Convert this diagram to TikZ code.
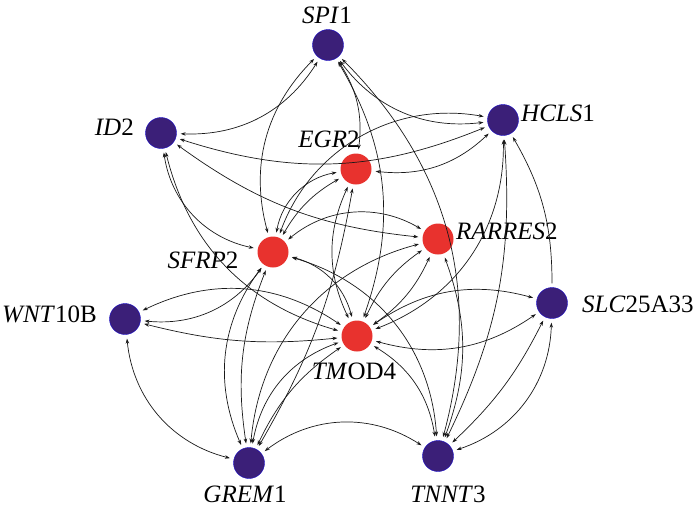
\documentclass[tikz,border=0pt]{standalone}
\usepackage{fontspec}
\setmainfont{Liberation Serif}
\usetikzlibrary{arrows.meta}
\definecolor{gblue}{RGB}{59,31,120}
\definecolor{gred}{RGB}{232,50,46}
\begin{document}
\begin{tikzpicture}[x=1pt,y=-1pt,
  gene/.style={circle, minimum size=31pt, inner sep=0pt},
  bnode/.style={gene, fill=gblue, draw=blue!60!gblue, line width=0.4pt},
  rnode/.style={gene, fill=gred},
  lab/.style={font=\fontsize{25}{25}\selectfont, inner sep=0pt},
  link/.style={{Stealth[length=5pt,width=3.5pt]}-{Stealth[length=5pt,width=3.5pt]}, line width=0.7pt, shorten <=4pt, shorten >=4pt, black!90},
  onelink/.style={-{Stealth[length=5pt,width=3.5pt]}, line width=0.7pt, shorten <=4pt, shorten >=4pt, black!90}
]
\useasboundingbox (0,0) rectangle (700,507);
% nodes
\node[bnode] (spi) at (328,45) {};
\node[bnode] (id) at (161,133) {};
\node[bnode] (hcls) at (503,120) {};
\node[rnode] (egr) at (356,169) {};
\node[rnode] (sfrp) at (273,252) {};
\node[rnode] (rar) at (438,239) {};
\node[bnode] (wnt) at (125,319) {};
\node[bnode] (slc) at (552,303) {};
\node[rnode] (tmod) at (357,336) {};
\node[bnode] (grem) at (249,463) {};
\node[bnode] (tnnt) at (438,456) {};
% labels
\node[lab] (lspi) at (327,15) {\textit{SPI}1};
\node[lab, anchor=east] (lid) at (134,127) {\textit{ID}2};
\node[lab, anchor=west] (lhcls) at (521,113) {\textit{HCLS}1};
\node[lab] (legr) at (329,139) {\textit{EGR}2};
\node[lab] (lsfrp) at (203,260) {\textit{SFRP}2};
\node[lab, anchor=west] (lrar) at (456,231) {\textit{RARRES}2};
\node[lab, anchor=east] (lwnt) at (97,314) {\textit{WNT}10B};
\node[lab, anchor=west] (lslc) at (582,304) {\textit{SLC}25A33};
\node[lab] (ltmod) at (354,371) {\textit{TM}OD4};
\node[lab] (lgrem) at (245,494) {\textit{GREM}1};
\node[lab] (ltnnt) at (448,494) {\textit{TNNT}3};
% links
\draw[link] (id) to[bend right=30] (spi);
\draw[link] (sfrp) to[bend left=30] (spi);
\draw[link] (spi) to[bend right=30] (hcls);
\draw[link] (spi) to[bend left=20] (egr);
\draw[link] (spi) to[bend left=25] (tmod);
\draw[link] (spi) to[bend left=30] (tnnt);
\draw[link] (id) to[bend right=35] (sfrp);
\draw[link] (id) to[bend right=30] (tmod);
\draw[link] (id) to[bend right=20] (hcls);
\draw[link] (id) to[bend right=15] (rar);
\draw[link] (sfrp) to[bend left=35] (egr);
\draw[link] (sfrp) to[bend left=15] (egr);
\draw[link] (sfrp) to[bend left=40] (hcls);
\draw[link] (egr) to[bend right=25] (hcls);
\draw[link] (egr) to[bend left=10] (grem);
\draw[link] (egr) to[bend right=25] (tmod);
\draw[link] (sfrp) to[bend left=30] (tmod);
\draw[link] (sfrp) to[bend left=35] (tnnt);
\draw[link] (sfrp) to[bend right=15] (grem);
\draw[link] (sfrp) to[bend right=30] (grem);
\draw[link] (sfrp) to[bend left=30] (wnt);
\draw[link] (wnt) to[bend left=30] (tmod);
\draw[link] (wnt) to[bend right=10] (tmod);
\draw[link] (wnt) to[bend right=35] (grem);
\draw[link] (grem) to[bend left=35] (tnnt);
\draw[link] (tnnt) to[bend right=35] (slc);
\draw[link] (tnnt) to[bend right=10] (slc);
\draw[onelink] (slc) to[bend right=15] (hcls);
\draw[link] (hcls) to[bend left=15] (tnnt);
\draw[link] (hcls) to[bend left=35] (tmod);
\draw[link] (rar) to[bend left=20] (tnnt);
\draw[link] (tmod) to[bend left=15] (rar);
\draw[link] (tmod) to[bend right=15] (rar);
\draw[link] (tmod) to[bend left=25] (slc);
\draw[link] (tmod) to[bend right=25] (slc);
\draw[link] (tmod) to[bend left=25] (tnnt);
\draw[link] (tmod) to[bend right=30] (grem);
\draw[link] (tmod) to[bend right=15] (grem);
\draw[link] (grem) to[bend left=35] (rar);
\draw[link] (sfrp) to[bend left=35] (rar);
\end{tikzpicture}
\end{document}
